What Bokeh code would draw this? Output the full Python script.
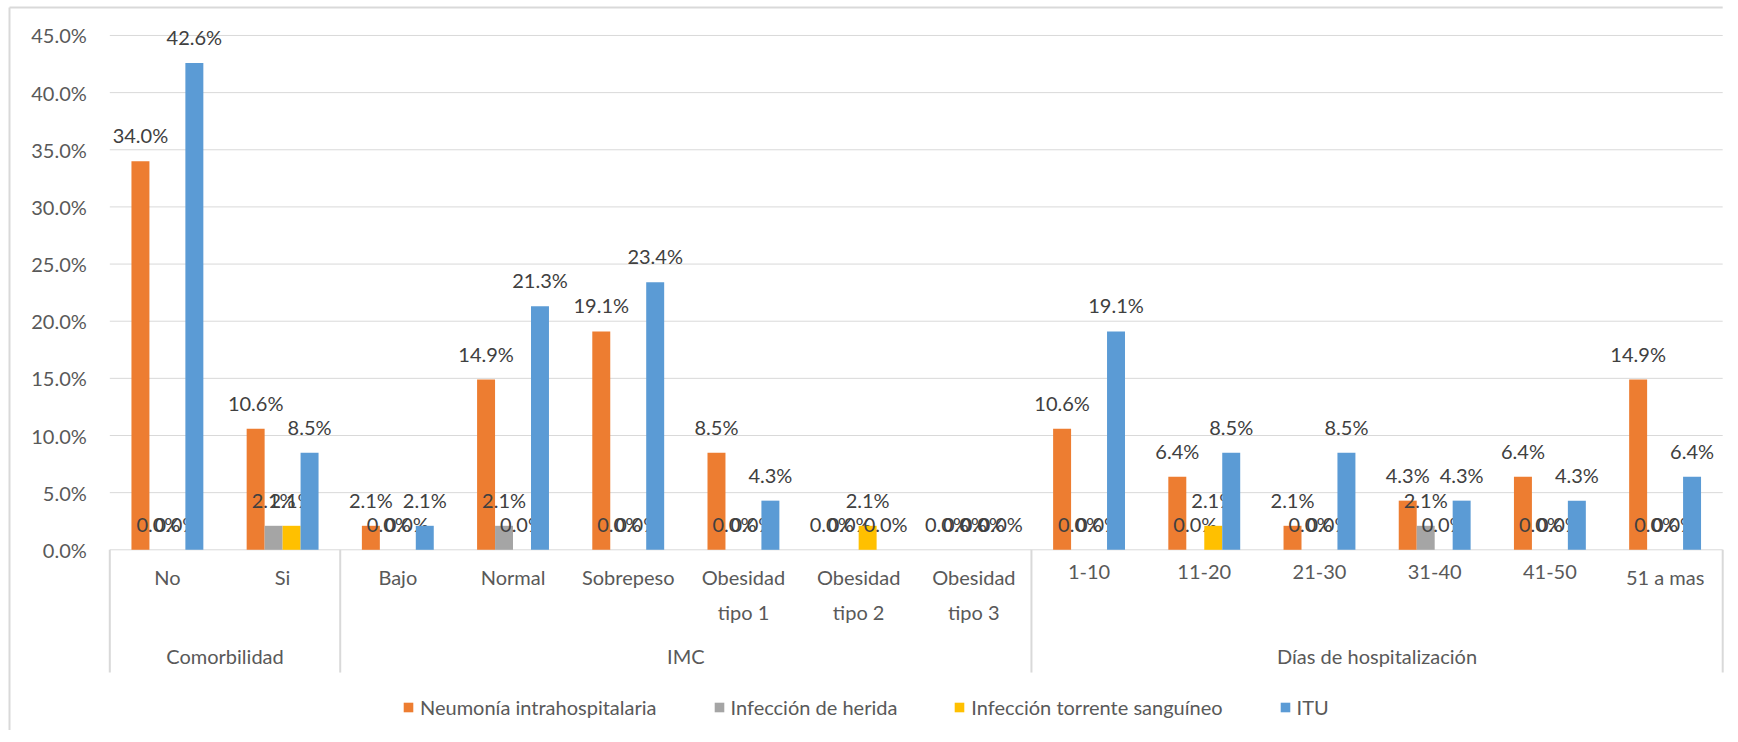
import numpy as np
from bokeh.plotting import figure
from bokeh.models import ColumnDataSource, Range1d, Legend, LegendItem
from bokeh.core.properties import value
from bokeh.transform import dodge
from bokeh.embed import file_html
from bokeh.resources import INLINE

# ---------------- data ----------------
categories = ["No", "Si", "Bajo", "Normal", "Sobrepeso", "Obesidad\ntipo 1",
              "Obesidad\ntipo 2", "Obesidad\ntipo 3", "1-10", "11-20", "21-30",
              "31-40", "41-50", "51 a mas"]
groups = ["Comorbilidad", "IMC", "Días de hospitalización"]
group_sizes = [2, 6, 6]

series_names = ["Neumonía intrahospitalaria", "Infección de herida",
                "Infección torrente sanguíneo", "ITU"]
neumonia = [34.0, 10.6, 2.1, 14.9, 19.1, 8.5, 0.0, 0.0, 10.6, 6.4, 2.1, 4.3, 6.4, 14.9]
herida   = [0.0, 2.1, 0.0, 2.1, 0.0, 0.0, 0.0, 0.0, 0.0, 0.0, 0.0, 2.1, 0.0, 0.0]
torrente = [0.0, 2.1, 0.0, 0.0, 0.0, 0.0, 2.1, 0.0, 0.0, 2.1, 0.0, 0.0, 0.0, 0.0]
itu      = [42.6, 8.5, 2.1, 21.3, 23.4, 4.3, 0.0, 0.0, 19.1, 8.5, 8.5, 4.3, 4.3, 6.4]
y_ticks = [0, 5, 10, 15, 20, 25, 30, 35, 40, 45]

# ---------------- style ----------------
colors = ["#ED7D31", "#A5A5A5", "#FFC000", "#5B9BD5"]
FONT = "Lato"
FS = "20px"
GRID = "#D9D9D9"
TXT = "#595959"
LBL = "#404040"
BW = 0.156

# layout (pixels -> data units): 115.21 px per category, 11.429 px per %
X_LEFT, X_RIGHT = -0.9487, 14.0156
Y_BOTTOM, Y_TOP = -15.81, 48.06
BORDER_X = -0.8706      # chart-area border, left
BORDER_Y = 47.45        # chart-area border, top
SEP_BOTTOM = -10.74

series = [neumonia, herida, torrente, itu]
n = len(categories)
xc = np.arange(n) + 0.5

p = figure(width=1730, height=730,
           x_range=Range1d(X_LEFT, X_RIGHT),
           y_range=Range1d(Y_BOTTOM, Y_TOP),
           output_backend="svg", toolbar_location=None,
           x_axis_location=None, y_axis_location=None,
           min_border_left=0, min_border_right=6,
           min_border_top=0, min_border_bottom=0)
p.outline_line_color = None
p.background_fill_color = "white"
p.border_fill_color = "white"
p.xgrid.visible = False
p.ygrid.visible = False

# chart-area border (left and top)
p.segment(x0=[BORDER_X, BORDER_X], y0=[Y_BOTTOM, BORDER_Y],
          x1=[BORDER_X, n], y1=[BORDER_Y, BORDER_Y],
          line_color=GRID, line_width=2)

# horizontal gridlines + value labels
p.segment(x0=0, y0=y_ticks, x1=n, y1=y_ticks, line_color=GRID, line_width=1)
p.text(x=0, y=y_ticks, text=[f"{t:.1f}%" for t in y_ticks],
       text_align="right", text_baseline="middle", x_offset=-23,
       text_font=value(FONT), text_font_size=FS, text_color=TXT)

renderers = []
for i, (vals, color) in enumerate(zip(series, colors)):
    off = (i - 1.5) * BW
    src = ColumnDataSource(dict(x=xc, y=vals, label=[f"{v:.1f}%" for v in vals]))
    r = p.vbar(x=dodge("x", off), top="y", bottom=0, width=BW, source=src,
               fill_color=color, line_color=None)
    renderers.append(r)
    p.text(x=dodge("x", off), y="y", text="label", source=src,
           text_align="center", text_baseline="middle", y_offset=-26,
           text_font=value(FONT), text_font_size=FS, text_color=LBL)

# category separators
bounds = np.concatenate([[0], np.cumsum(group_sizes)])
p.segment(x0=bounds, y0=0, x1=bounds, y1=SEP_BOTTOM, line_color=GRID, line_width=2)

# category labels
p.text(x=xc, y=0, text=categories, text_align="center", text_baseline="top",
       y_offset=15, text_line_height=1.45,
       text_font=value(FONT), text_font_size=FS, text_color=TXT)

# group labels
gcent = (bounds[:-1] + bounds[1:]) / 2
p.text(x=gcent, y=0, text=groups, text_align="center", text_baseline="middle",
       y_offset=106, text_font=value(FONT), text_font_size=FS, text_color=TXT)

legend = Legend(items=[LegendItem(label=nm, renderers=[r]) for nm, r in zip(series_names, renderers)],
                orientation="horizontal", location=(402, 11),
                glyph_width=12, glyph_height=12, label_standoff=6, spacing=56,
                padding=0, margin=0, border_line_color=None,
                background_fill_alpha=0,
                label_text_font=FONT, label_text_font_size=FS,
                label_text_color=TXT)
p.add_layout(legend, "center")

open("out.html", "w").write(file_html(p, INLINE))
